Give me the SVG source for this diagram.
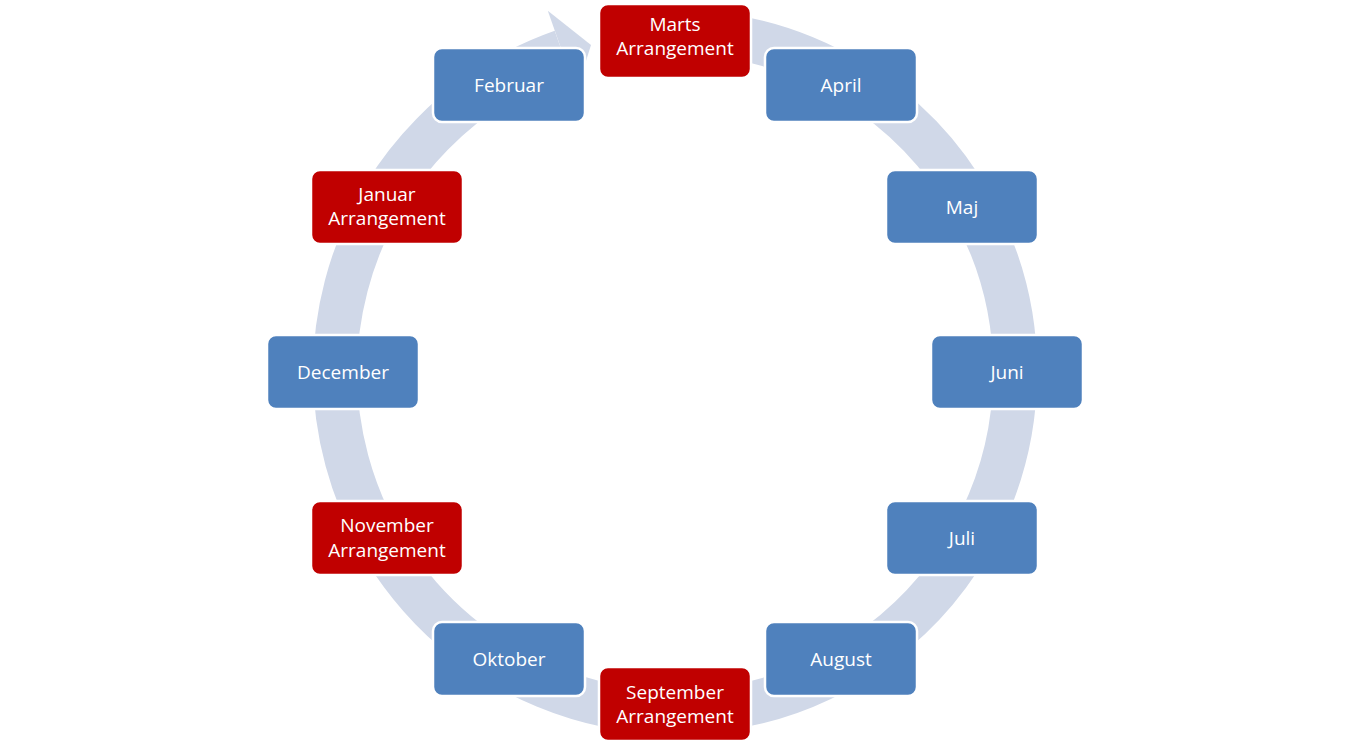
<svg xmlns="http://www.w3.org/2000/svg" width="1350" height="746" viewBox="0 0 1350 746">
<style>
.n rect{stroke:#fff;stroke-width:2.5}
.b rect{fill:#4F81BD}
.r rect{fill:#C00000}
text{font-family:"Open Sans","Liberation Sans",sans-serif;font-size:19px;fill:#fff;text-anchor:middle}
</style>
<rect width="1350" height="746" fill="#fff"/>
<g id="connectors">
<path d="M704.6,33.3 A340,340 0 1 1 562,51.4" fill="none" stroke="#D0D8E8" stroke-width="44"/>
<polygon points="547.8,10.8 576.3,91.9 591,45" fill="#D0D8E8"/>
</g>
<g id="marts" class="n r"><rect x="599" y="4" width="152" height="74" rx="9"/><text x="675" y="31">Marts</text><text x="675" y="55">Arrangement</text></g>
<g id="april" class="n b"><rect x="765" y="48" width="152" height="74" rx="9"/><text x="841" y="92">April</text></g>
<g id="maj" class="n b"><rect x="886" y="170" width="152" height="74" rx="9"/><text x="962" y="214">Maj</text></g>
<g id="juni" class="n b"><rect x="931" y="335" width="152" height="74" rx="9"/><text x="1007" y="379">Juni</text></g>
<g id="juli" class="n b"><rect x="886" y="501" width="152" height="74" rx="9"/><text x="962" y="545">Juli</text></g>
<g id="august" class="n b"><rect x="765" y="622" width="152" height="74" rx="9"/><text x="841" y="666">August</text></g>
<g id="september" class="n r"><rect x="599" y="667" width="152" height="74" rx="9"/><text x="675" y="699">September</text><text x="675" y="723">Arrangement</text></g>
<g id="oktober" class="n b"><rect x="433" y="622" width="152" height="74" rx="9"/><text x="509" y="666">Oktober</text></g>
<g id="november" class="n r"><rect x="311" y="501" width="152" height="74" rx="9"/><text x="387" y="532">November</text><text x="387" y="557">Arrangement</text></g>
<g id="december" class="n b"><rect x="267" y="335" width="152" height="74" rx="9"/><text x="343" y="379">December</text></g>
<g id="januar" class="n r"><rect x="311" y="170" width="152" height="74" rx="9"/><text x="387" y="201">Januar</text><text x="387" y="225">Arrangement</text></g>
<g id="februar" class="n b"><rect x="433" y="48" width="152" height="74" rx="9"/><text x="509" y="92">Februar</text></g>
</svg>
